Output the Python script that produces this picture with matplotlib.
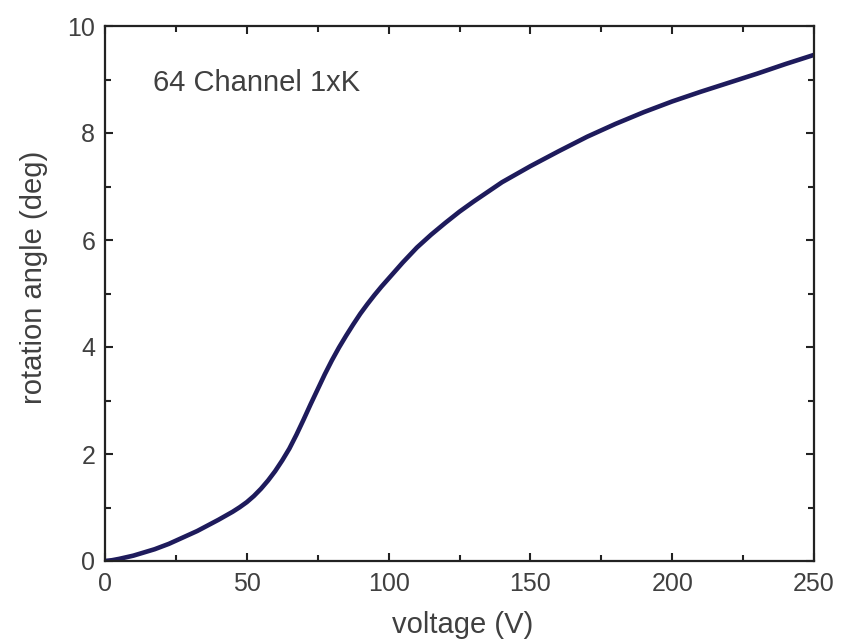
import matplotlib
matplotlib.use("Agg")
import matplotlib.pyplot as plt
from matplotlib.ticker import MultipleLocator

plt.rcParams['font.family'] = ['Liberation Sans', 'DejaVu Sans']

voltage = [0, 2.5, 5, 7.5, 10, 12.5, 15, 17.5, 20, 22.5, 25, 27.5, 30, 32.5,
           35, 37.5, 40, 42.5, 45, 47.5, 50, 52.5, 55, 57.5, 60, 62.5, 65,
           67.5, 70, 72.5, 75, 77.5, 80, 82.5, 85, 87.5, 90, 92.5, 95, 97.5,
           100, 105, 110, 115, 120, 125, 130, 140, 150, 160, 170, 180, 190,
           200, 210, 220, 230, 240, 250]
angle = [0.0, 0.015, 0.04, 0.07, 0.10, 0.14, 0.18, 0.22, 0.27, 0.32, 0.38,
         0.44, 0.50, 0.56, 0.63, 0.70, 0.77, 0.845, 0.92, 1.005, 1.10, 1.215,
         1.35, 1.505, 1.68, 1.88, 2.10, 2.36, 2.64, 2.93, 3.21, 3.49, 3.75,
         3.99, 4.21, 4.42, 4.62, 4.80, 4.97, 5.13, 5.28, 5.58, 5.86, 6.10,
         6.32, 6.53, 6.72, 7.08, 7.38, 7.66, 7.93, 8.17, 8.39, 8.59, 8.77,
         8.94, 9.11, 9.29, 9.46]

TEXT = '#404040'

fig = plt.figure(figsize=(8.46, 6.42), dpi=100)
ax = fig.add_axes([105/846, 1 - 561/642, 709/846, 535/642])

ax.plot(voltage, angle, color='#1e1b5c', lw=3.3, solid_capstyle='round',
        solid_joinstyle='round')

ax.set_xlim(0, 250)
ax.set_ylim(0, 10)
ax.xaxis.set_major_locator(MultipleLocator(50))
ax.xaxis.set_minor_locator(MultipleLocator(25))
ax.yaxis.set_major_locator(MultipleLocator(2))
ax.yaxis.set_minor_locator(MultipleLocator(1))
ax.tick_params(which='both', direction='in', top=True, right=True,
               width=1.5, color='#222222')
ax.tick_params(which='major', length=6, labelsize=18, labelcolor=TEXT)
ax.tick_params(axis='x', which='major', pad=8)
ax.tick_params(axis='y', which='major', pad=7)
ax.tick_params(which='minor', length=4)
for s in ax.spines.values():
    s.set_linewidth(1.6)
    s.set_color('#222222')

ax.set_xlabel('voltage (V)', fontsize=21, color=TEXT)
ax.set_ylabel('rotation angle (deg)', fontsize=21, color=TEXT)
ax.xaxis.set_label_coords(0.505, -0.12)
ax.yaxis.set_label_coords(-0.1, 0.53)
ax.xaxis.label.set_va('center')
ax.yaxis.label.set_va('center')
ax.text(0.068, 0.893, '64 Channel 1xK', transform=ax.transAxes,
        fontsize=21, color=TEXT, va='center', ha='left')

fig.savefig('out.png', dpi=100)
